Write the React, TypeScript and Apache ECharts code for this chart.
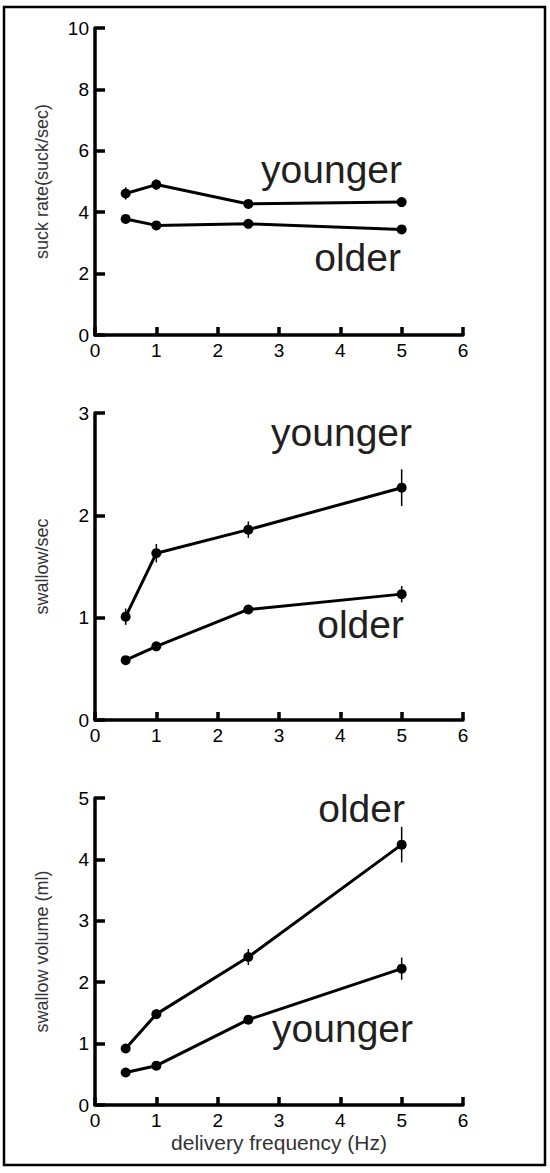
import React, { useEffect, useRef } from "react";
import * as echarts from "echarts";

const freq = [0.5, 1, 2.5, 5];
const xTicks = [0, 1, 2, 3, 4, 5, 6];

// Panel 1: suck rate
const suckYounger = [4.61, 4.9, 4.27, 4.33];
const suckYoungerErr = [0.2, 0.17, 0.08, 0.05];
const suckOlder = [3.78, 3.57, 3.62, 3.44];
const suckOlderErr = [0.05, 0.05, 0.05, 0.05];

// Panel 2: swallow/sec
const swRateYounger = [1.01, 1.63, 1.86, 2.27];
const swRateYoungerErr = [0.08, 0.09, 0.08, 0.18];
const swRateOlder = [0.585, 0.72, 1.08, 1.23];
const swRateOlderErr = [0.03, 0.03, 0.04, 0.08];

// Panel 3: swallow volume
const volOlder = [0.92, 1.48, 2.41, 4.24];
const volOlderErr = [0.04, 0.08, 0.13, 0.29];
const volYounger = [0.53, 0.64, 1.39, 2.22];
const volYoungerErr = [0.04, 0.04, 0.05, 0.18];

const yNames = ["suck rate(suck/sec)", "swallow/sec", "swallow volume (ml)"];
const yMax = [10, 3, 5];
const yInterval = [2, 1, 1];
const xName = "delivery frequency (Hz)";

const FONT = "'Liberation Sans', Arial, Helvetica, sans-serif";

export default function App() {
  const ref = useRef<HTMLDivElement>(null);

  useEffect(() => {
    if (!ref.current) return;
    const chart = echarts.init(ref.current, null, { renderer: "svg" });

    const gridTops = [28, 413, 798];
    const grids = gridTops.map((t) => ({
      left: 95,
      top: t,
      width: 368,
      height: 307,
      containLabel: false,
    }));

    const xAxes = gridTops.map((_, i) => ({
      type: "value",
      gridIndex: i,
      min: 0,
      max: 6,
      interval: 1,
      name: i === 2 ? xName : "",
      nameLocation: "middle",
      nameGap: 27,
      nameTextStyle: { fontSize: 21, color: "#333", fontFamily: FONT },
      axisLine: { show: true, lineStyle: { color: "#000", width: 3.5 } },
      axisTick: { show: true, inside: true, length: 8, lineStyle: { color: "#000", width: 3.5 } },
      axisLabel: {
        fontSize: 19,
        color: "#000",
        fontFamily: FONT,
        margin: 6,
        formatter: (v: number) => (xTicks.includes(v) ? String(v) : ""),
      },
      splitLine: { show: false },
    }));

    const yAxes = gridTops.map((_, i) => ({
      type: "value",
      gridIndex: i,
      min: 0,
      max: yMax[i],
      interval: yInterval[i],
      name: yNames[i],
      nameLocation: "middle",
      nameGap: 44,
      nameTextStyle: { fontSize: 18, color: "#333", fontFamily: FONT },
      axisLine: { show: true, lineStyle: { color: "#000", width: 3.5 } },
      axisTick: { show: true, inside: true, length: 10, lineStyle: { color: "#000", width: 3.5 } },
      axisLabel: { fontSize: 19, color: "#000", fontFamily: FONT, margin: 6 },
      splitLine: { show: false },
    }));

    const lineSeries = (vals: number[], idx: number) => ({
      type: "line",
      xAxisIndex: idx,
      yAxisIndex: idx,
      data: freq.map((f, k) => [f, vals[k]]),
      symbol: "circle",
      symbolSize: 10,
      lineStyle: { color: "#000", width: 3 },
      itemStyle: { color: "#000" },
      z: 3,
    });

    const errSeries = (vals: number[], errs: number[], idx: number) => ({
      type: "custom",
      xAxisIndex: idx,
      yAxisIndex: idx,
      data: freq.map((f, k) => [f, vals[k], errs[k]]),
      encode: { x: 0, y: 1 },
      z: 2,
      renderItem: (_params: any, api: any) => {
        const x = api.value(0);
        const y = api.value(1);
        const e = api.value(2);
        const p1 = api.coord([x, y - e]);
        const p2 = api.coord([x, y + e]);
        return {
          type: "line",
          shape: { x1: p1[0], y1: p1[1], x2: p2[0], y2: p2[1] },
          style: { stroke: "#000", lineWidth: 1.5 },
        };
      },
    });

    const annot = (text: string, right: number, baseline: number) => ({
      type: "text",
      x: right,
      y: baseline - 13.5,
      style: {
        text,
        fontSize: 39,
        fontFamily: FONT,
        fill: "#231f20",
        textAlign: "right",
        textVerticalAlign: "middle",
      },
    });

    chart.setOption({
      animation: false,
      backgroundColor: "#fff",
      grid: grids,
      xAxis: xAxes,
      yAxis: yAxes,
      series: [
        errSeries(suckYounger, suckYoungerErr, 0),
        errSeries(suckOlder, suckOlderErr, 0),
        lineSeries(suckYounger, 0),
        lineSeries(suckOlder, 0),
        errSeries(swRateYounger, swRateYoungerErr, 1),
        errSeries(swRateOlder, swRateOlderErr, 1),
        lineSeries(swRateYounger, 1),
        lineSeries(swRateOlder, 1),
        errSeries(volOlder, volOlderErr, 2),
        errSeries(volYounger, volYoungerErr, 2),
        lineSeries(volOlder, 2),
        lineSeries(volYounger, 2),
      ],
      graphic: [
        {
          type: "rect",
          shape: { x: 4, y: 7, width: 541, height: 1158 },
          style: { fill: "none", stroke: "#000", lineWidth: 2.5 },
          silent: true,
        },
        annot("younger", 402, 183),
        annot("older", 401, 271),
        annot("younger", 412, 446),
        annot("older", 404, 638),
        annot("older", 405, 822),
        annot("younger", 413, 1042),
      ],
    });

    return () => chart.dispose();
  }, []);

  return (
    <div
      ref={ref}
      style={{ position: "absolute", left: 0, top: 0, width: 550, height: 1173 }}
    />
  );
}
